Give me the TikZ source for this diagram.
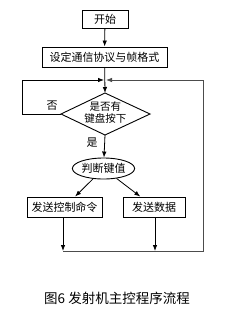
\documentclass[tikz,border=0pt]{standalone}
\usepackage{fontspec}
\newfontfamily\cjk{Noto Sans CJK SC}
\usetikzlibrary{shapes.geometric,arrows.meta}
\begin{document}
\begin{tikzpicture}[x=1pt,y=-1pt,
  font=\cjk\fontsize{11}{12}\selectfont,
  box/.style={draw, line width=0.9pt, inner sep=0pt, minimum height=20pt},
  arr/.style={-{Latex[length=6pt,width=4.5pt]}, line width=0.8pt},
  ln/.style={line width=0.6pt, draw=black!70}]
\useasboundingbox (0,0) rectangle (225,314);
% nodes
\node[box, minimum width=46pt, minimum height=18pt] (start) at (105,19) {开始};
\node[box, minimum width=125pt] (proto) at (104.5,57) {设定通信协议与帧格式};
\coordinate (dT) at (105,93);
\coordinate (dB) at (105,135);
\coordinate (dL) at (61,114);
\coordinate (dR) at (150,114);
\draw[line width=0.9pt] (dT) -- (dR) -- (dB) -- (dL) -- cycle;
\node[align=center, inner sep=0pt, font=\cjk\fontsize{10.5}{11.5}\selectfont] (dec) at (105.5,112.5) {是否有\\键盘按下};
\node[ellipse, draw, line width=0.9pt, minimum width=62pt, minimum height=21pt, inner sep=0pt] (judge) at (103.5,168.5) {判断键值};
\node[box, minimum width=75pt] (cmd) at (64.5,207) {发送控制命令};
\node[box, minimum width=62pt] (data) at (154,207) {发送数据};
\node[font=\cjk\fontsize{13.5}{15}\selectfont] (cap) at (117,298) {图6 发射机主控程序流程};
\node[inner sep=0pt] (no) at (52,106) {否};
\node[inner sep=0pt] (yes) at (92,143) {是};
% loop coordinates
\coordinate (topL) at (104,80);
\coordinate (topR) at (106,80);
\coordinate (lc) at (22,80);
\coordinate (rc) at (203,80);
\coordinate (br) at (203,251);
\coordinate (bl) at (63,251);
\coordinate (cmdB) at (63,251);
\coordinate (dataB) at (155,251);
% connectors
\draw[arr] (start) -- (proto);
\draw[arr] (proto) -- (dT);
\draw[arr] (dB) -- (judge);
\draw[arr] (judge) -- (cmd);
\draw[arr] (judge) -- (data);
\draw[arr] (cmd.south -| cmdB) -- (cmdB);
\draw[arr] (data.south -| dataB) -- (dataB);
\draw[ln] (bl) -- (br) -- (rc);
\draw[arr, draw=black!70] (rc) -- (topR);
\draw[arr] (dL) -| (lc) -- (topL);
\end{tikzpicture}
\end{document}
